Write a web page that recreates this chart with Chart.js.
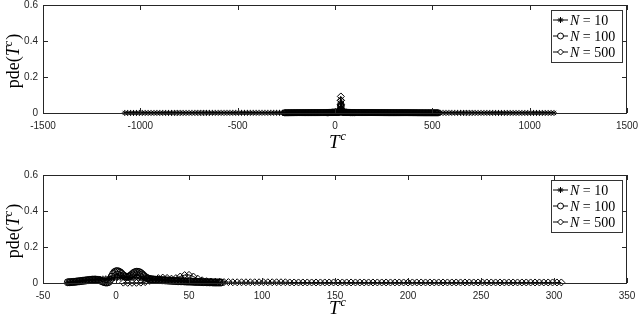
<!DOCTYPE html>
<html>
<head>
<meta charset="utf-8">
<script src="https://cdn.jsdelivr.net/npm/chart.js@4/dist/chart.umd.min.js"></script>
<style>
  html, body { margin: 0; padding: 0; background: #fff; }
  #wrap { position: relative; width: 640px; height: 318px; overflow: hidden; }
  canvas { position: absolute; left: 0; }
</style>
</head>
<body>
<div id="wrap">
  <canvas id="top" width="640" height="159" style="top:0"></canvas>
  <canvas id="bottom" width="640" height="148" style="top:170px"></canvas>
</div>
<script>
// series names and tick labels
const seriesNames = ["10", "100", "500"];
const yTicks = [0, 0.2, 0.4, 0.6];
const topXTicks = [-1500, -1000, -500, 0, 500, 1000, 1500];
const bottomXTicks = [-50, 0, 50, 100, 150, 200, 250, 300, 350];

// top panel, N = 10
const topX10 = [-1080,-1065,-1050,-1035,-1020,-1005,-990,-975,-960,-945,
  -930,-915,-900,-885,-870,-855,-840,-825,-810,-795,
  -780,-765,-750,-735,-720,-705,-690,-675,-660,-645,
  -630,-615,-600,-585,-570,-555,-540,-525,-510,-495,
  -480,-465,-450,-435,-420,-405,-390,-375,-360,-345,
  -330,-315,-300,-285,-270,-255,-240,-225,-210,-195,
  -180,-165,-150,-135,-120,-105,-90,-75,-60,-45,
  -30,-15,0,15,30,45,60,75,90,105,
  120,135,150,165,180,195,210,225,240,255,
  270,285,300,315,330,345,360,375,390,405,
  420,435,450,465,480,495,510,525,540,555,
  570,585,600,615,630,645,660,675,690,705,
  720,735,750,765,780,795,810,825,840,855,
  870,885,900,915,930,945,960,975,990,1005,
  1020,1035,1050,1065,1080,1095,1110,1125];
const topY10 = [0.0003,0.0003,0.0003,0.0003,0.0003,0.0004,0.0004,0.0004,0.0004,0.0004,
  0.0004,0.0005,0.0005,0.0005,0.0005,0.0005,0.0005,0.0006,0.0006,0.0006,
  0.0006,0.0006,0.0006,0.0007,0.0007,0.0007,0.0007,0.0007,0.0007,0.0008,
  0.0008,0.0008,0.0008,0.0008,0.0008,0.0008,0.0009,0.0009,0.0009,0.0009,
  0.0009,0.0009,0.0009,0.0010,0.0010,0.0010,0.0010,0.0010,0.0010,0.0010,
  0.0010,0.0011,0.0011,0.0011,0.0011,0.0011,0.0011,0.0011,0.0011,0.0011,
  0.0011,0.0011,0.0012,0.0012,0.0012,0.0012,0.0012,0.0012,0.0012,0.0012,
  0.0012,0.0012,0.0012,0.0012,0.0012,0.0012,0.0012,0.0012,0.0012,0.0011,
  0.0011,0.0011,0.0011,0.0011,0.0011,0.0011,0.0011,0.0011,0.0011,0.0010,
  0.0010,0.0010,0.0010,0.0010,0.0010,0.0010,0.0010,0.0009,0.0009,0.0009,
  0.0009,0.0009,0.0009,0.0009,0.0008,0.0008,0.0008,0.0008,0.0008,0.0008,
  0.0007,0.0007,0.0007,0.0007,0.0007,0.0007,0.0006,0.0006,0.0006,0.0006,
  0.0006,0.0006,0.0005,0.0005,0.0005,0.0005,0.0005,0.0005,0.0004,0.0004,
  0.0004,0.0004,0.0004,0.0004,0.0004,0.0003,0.0003,0.0003,0.0003,0.0003,
  0.0003,0.0003,0.0003,0.0003,0.0003,0.0003,0.0003,0.0003];

// top panel, N = 100
const topX100 = [-260,-255,-250,-245,-240,-235,-230,-225,-220,-215,
  -210,-205,-200,-195,-190,-185,-180,-175,-170,-165,
  -160,-155,-150,-145,-140,-135,-130,-125,-120,-115,
  -110,-105,-100,-95,-90,-85,-80,-75,-70,-65,
  -60,-55,-50,-45,-40,-35,-30,-25,-20,-15,
  -10,-5,0,5,10,15,20,
  23,26,28,30,32,34,37,
  40,45,50,55,60,65,70,75,80,85,
  90,95,100,105,110,115,120,125,130,135,
  140,145,150,155,160,165,170,175,180,185,
  190,195,200,205,210,215,220,225,230,235,
  240,245,250,255,260,265,270,275,280,285,
  290,295,300,305,310,315,320,325,330,335,
  340,345,350,355,360,365,370,375,380,385,
  390,395,400,405,410,415,420,425,430,435,
  440,445,450,455,460,465,470,475,480,485,
  490,495,500,505,510,515,520,525,530];
const topY100 = [0.0012,0.0012,0.0013,0.0013,0.0013,0.0014,0.0014,0.0014,0.0015,0.0015,
  0.0015,0.0016,0.0016,0.0016,0.0017,0.0017,0.0017,0.0018,0.0018,0.0018,
  0.0019,0.0019,0.0019,0.0020,0.0020,0.0020,0.0021,0.0021,0.0021,0.0022,
  0.0022,0.0022,0.0022,0.0023,0.0023,0.0023,0.0023,0.0024,0.0024,0.0024,
  0.0024,0.0025,0.0025,0.0025,0.0025,0.0025,0.0026,0.0026,0.0026,0.0026,
  0.0026,0.0027,0.0027,0.0027,0.0028,0.0028,0.0030,
  0.006,0.018,0.036,0.052,0.036,0.018,0.006,
  0.0030,0.0029,0.0029,0.0029,0.0028,0.0028,0.0028,0.0028,0.0027,0.0027,
  0.0027,0.0027,0.0026,0.0026,0.0026,0.0026,0.0026,0.0025,0.0025,0.0025,
  0.0025,0.0025,0.0024,0.0024,0.0024,0.0024,0.0024,0.0023,0.0023,0.0023,
  0.0023,0.0023,0.0022,0.0022,0.0022,0.0022,0.0022,0.0021,0.0021,0.0021,
  0.0021,0.0021,0.0020,0.0020,0.0020,0.0020,0.0020,0.0019,0.0019,0.0019,
  0.0019,0.0019,0.0018,0.0018,0.0018,0.0018,0.0018,0.0017,0.0017,0.0017,
  0.0017,0.0017,0.0016,0.0016,0.0016,0.0016,0.0016,0.0015,0.0015,0.0015,
  0.0015,0.0015,0.0014,0.0014,0.0014,0.0014,0.0014,0.0013,0.0013,0.0013,
  0.0013,0.0013,0.0013,0.0012,0.0012,0.0012,0.0012,0.0012,0.0012,0.0012,
  0.0011,0.0011,0.0011,0.0011,0.0011,0.0011,0.0011,0.0011,0.0011];

// top panel, N = 500
const topX500 = [-40,-35,-30,-25,-20,-15,-10,-5,0,5,10,15,20,25,
  27,28,29,30,31,32,33,
  35,40,45,50,55,60,65,70,75,80,90,100];
const topY500 = [0.002,0.002,0.003,0.003,0.003,0.004,0.004,0.004,0.005,0.005,0.005,0.006,0.006,0.008,
  0.02,0.045,0.07,0.092,0.07,0.045,0.02,
  0.008,0.006,0.005,0.005,0.004,0.004,0.003,0.003,0.003,0.002,0.002,0.002];

// bottom panel, N = 10
const bottomX10 = [-33,-31,-29,-27,-25,-23,-21,-19,-17,-15,
  -13,-11,-9,-7,-5,-3,-1,1,3,5,
  7,9,11,13,15,17,19,21,23,25,
  27,29,31,33,35,37,39,41,43,45,
  47,49,51,53,55,57,59,61,63,65,
  67,69];
const bottomY10 = [0.002,0.004,0.006,0.008,0.010,0.012,0.014,0.016,0.018,0.019,
  0.021,0.022,0.024,0.025,0.026,0.027,0.028,0.029,0.030,0.031,
  0.031,0.030,0.030,0.029,0.028,0.027,0.026,0.025,0.023,0.022,
  0.020,0.019,0.018,0.016,0.015,0.014,0.013,0.012,0.011,0.010,
  0.009,0.008,0.007,0.007,0.006,0.005,0.005,0.004,0.004,0.003,
  0.003,0.002];

// bottom panel, N = 100
const bottomX100 = [-33,-32,-31,-30,-29,-28,-27,-26,-25,-24,
  -23,-22,-21,-20,-19,-18,-17,-16,-15,-14,
  -13,-12,-11,-10,-9,-8,-7,-6,-5,-4,
  -3,-2,-1,0,1,2,3,4,5,6,
  7,8,9,10,11,12,13,14,15,16,
  17,18,19,20,21,22,23,24,25,26,
  27,28,29,30,31,32,33,34,35,36,
  37,38,39,40,41,42,43,44,45,46,
  47,48,49,50,51,52,53,54,55,56,
  57,58,59,60,61,62,63,64,65,66,
  67,68,69,70,71,72];
const bottomY100 = [0.004,0.0045,0.005,0.0055,0.006,0.007,0.008,0.009,0.010,0.011,
  0.012,0.013,0.014,0.015,0.016,0.017,0.018,0.0185,0.019,0.019,
  0.018,0.017,0.015,0.012,0.008,0.005,0.003,0.003,0.006,0.018,
  0.035,0.050,0.060,0.065,0.066,0.063,0.058,0.050,0.042,0.037,
  0.034,0.034,0.036,0.041,0.048,0.055,0.060,0.062,0.062,0.060,
  0.055,0.048,0.040,0.033,0.028,0.025,0.022,0.021,0.020,0.019,
  0.018,0.0175,0.017,0.0165,0.016,0.0155,0.015,0.0145,0.014,0.0135,
  0.013,0.0125,0.012,0.0115,0.011,0.0105,0.010,0.010,0.010,0.0095,
  0.009,0.0085,0.008,0.008,0.008,0.0075,0.007,0.0065,0.006,0.006,
  0.006,0.0055,0.005,0.005,0.005,0.0045,0.004,0.004,0.004,0.0035,
  0.003,0.003,0.003,0.003,0.003,0.003];

// bottom panel, N = 500
const bottomX500 = [5,8,11,14,17,20,23,26,29,32,
  35,38,41,44,47,50,53,56,59,62,
  65,68,71,74,77,80,83,86,89,92,
  95,98,101,104,107,110,113,116,119,122,
  125,128,131,134,137,140,143,146,149,152,
  155,158,161,164,167,170,173,176,179,182,
  185,188,191,194,197,200,203,206,209,212,
  215,218,221,224,227,230,233,236,239,242,
  245,248,251,254,257,260,263,266,269,272,
  275,278,281,284,287,290,293,296,299,302,
  305];
const bottomY500 = [0.002,0.001,0.001,0.001,0.002,0.005,0.012,0.020,0.027,0.030,
  0.028,0.024,0.027,0.036,0.044,0.045,0.036,0.024,0.015,0.010,
  0.008,0.007,0.006,0.005,0.005,0.004,0.004,0.004,0.004,0.004,
  0.004,0.004,0.004,0.004,0.004,0.004,0.004,0.004,0.003,0.003,
  0.003,0.003,0.003,0.003,0.003,0.003,0.003,0.003,0.003,0.003,
  0.003,0.003,0.003,0.003,0.003,0.003,0.003,0.003,0.003,0.003,
  0.003,0.003,0.003,0.003,0.003,0.003,0.003,0.003,0.003,0.003,
  0.003,0.003,0.003,0.003,0.003,0.003,0.003,0.003,0.003,0.003,
  0.003,0.003,0.003,0.003,0.003,0.003,0.003,0.003,0.003,0.003,
  0.003,0.003,0.003,0.003,0.003,0.003,0.003,0.003,0.003,0.003,
  0.003];

const SERIF = "'Liberation Serif', 'DejaVu Serif', serif";
const SANS = "'Liberation Sans', Arial, sans-serif";
const AXIS = "#262626";

const pts = (xs, ys) => xs.map((x, i) => ({ x: x, y: ys[i] }));

function series(name, data, style, r) {
  return {
    label: "N = " + name,
    data: data,
    showLine: true,
    borderColor: "#000",
    borderWidth: 1,
    backgroundColor: "rgba(0,0,0,0)",
    pointStyle: style,
    pointRadius: r,
    pointBorderWidth: 1,
    pointBorderColor: "#000",
    pointBackgroundColor: "rgba(0,0,0,0)",
    clip: false
  };
}

// box, inward ticks, axis titles and legend in the matlab style
const matlabFrame = {
  id: "matlabFrame",
  afterDatasetsDraw(chart) {
    const ctx = chart.ctx;
    const a = chart.chartArea;
    const xs = chart.scales.x, ys = chart.scales.y;
    ctx.save();
    ctx.strokeStyle = AXIS;
    ctx.lineWidth = 1;
    ctx.strokeRect(a.left + 0.5, a.top + 0.5, a.right - a.left - 1, a.bottom - a.top);
    ctx.beginPath();
    xs.ticks.forEach(t => {
      const px = Math.round(xs.getPixelForValue(t.value)) + 0.5;
      ctx.moveTo(px, a.bottom); ctx.lineTo(px, a.bottom - 5);
      ctx.moveTo(px, a.top); ctx.lineTo(px, a.top + 5);
    });
    ys.ticks.forEach(t => {
      const py = Math.round(ys.getPixelForValue(t.value)) + 0.5;
      ctx.moveTo(a.left, py); ctx.lineTo(a.left + 5, py);
      ctx.moveTo(a.right, py); ctx.lineTo(a.right - 5, py);
    });
    ctx.stroke();

    // legend
    const lx = a.right - 76, ly = a.top + 5, lw = 71, lh = 52;
    ctx.fillStyle = "#fff";
    ctx.fillRect(lx, ly, lw, lh);
    ctx.strokeStyle = "#333";
    ctx.strokeRect(lx + 0.5, ly + 0.5, lw, lh);
    chart.data.datasets.forEach((ds, i) => {
      const cy = ly + 10 + i * 16;
      ctx.strokeStyle = "#000";
      ctx.beginPath();
      ctx.moveTo(lx + 2, cy); ctx.lineTo(lx + 17, cy);
      ctx.stroke();
      ctx.fillStyle = "#fff";
      Chart.helpers.drawPoint(ctx, { pointStyle: ds.pointStyle, rotation: 0, radius: 3, borderWidth: 1 }, lx + 9.5, cy);
      ctx.fillStyle = "#000";
      ctx.textBaseline = "middle";
      ctx.textAlign = "left";
      ctx.font = "italic 14px " + SERIF;
      ctx.fillText("N", lx + 19, cy + 1);
      const nw = ctx.measureText("N").width;
      ctx.font = "14px " + SERIF;
      ctx.fillText(" = " + seriesNames[i], lx + 19 + nw, cy + 1);
    });

    // x title
    const dy = chart.options.plugins.matlabFrame.xTitleDy;
    ctx.fillStyle = "#000";
    ctx.textBaseline = "alphabetic";
    ctx.textAlign = "left";
    const xc = (a.left + a.right) / 2;
    ctx.font = "italic 19px " + SERIF;
    const tw = ctx.measureText("T").width;
    ctx.fillText("T", xc - 6, a.bottom + dy);
    ctx.font = "italic 12px " + SERIF;
    ctx.fillText("c", xc - 6 + tw + 1, a.bottom + dy - 8);

    // y title, rotated
    const parts = [["pde(", "18px "], ["T", "italic 18px "], ["c", "italic 12px "], [")", "18px "]];
    let total = 0;
    parts.forEach(p => { ctx.font = p[1] + SERIF; total += ctx.measureText(p[0]).width + (p[0] === "c" ? 1 : 0); });
    ctx.translate(19, (a.top + a.bottom) / 2 + 2);
    ctx.rotate(-Math.PI / 2);
    let x = -total / 2;
    parts.forEach(p => {
      ctx.font = p[1] + SERIF;
      ctx.fillText(p[0], x, p[0] === "c" ? -7 : 0);
      x += ctx.measureText(p[0]).width + (p[0] === "c" ? 1 : 0);
    });
    ctx.restore();
  }
};

function makeChart(id, datasets, xTicks, canvasH, xTitleDy) {
  const ctx = document.getElementById(id).getContext("2d");
  return new Chart(ctx, {
    type: "scatter",
    data: { datasets: datasets },
    options: {
      responsive: false,
      animation: false,
      layout: { padding: { left: 0, right: 13, top: 5, bottom: 0 } },
      plugins: {
        legend: { display: false },
        tooltip: { enabled: false },
        matlabFrame: { xTitleDy: xTitleDy }
      },
      scales: {
        x: {
          type: "linear",
          min: xTicks[0],
          max: xTicks[xTicks.length - 1],
          afterFit: s => { s.height = canvasH - 113; s.paddingLeft = 0; s.paddingRight = 0; },
          afterBuildTicks: s => { s.ticks = xTicks.map(v => ({ value: v })); },
          grid: { display: false, drawTicks: false },
          border: { display: false },
          ticks: {
            padding: 7,
            color: AXIS,
            font: { family: SANS, size: 10 },
            maxRotation: 0,
            autoSkip: false,
            callback: v => String(v)
          }
        },
        y: {
          min: 0,
          max: 0.6,
          afterFit: s => { s.width = 43; s.paddingTop = 0; s.paddingBottom = 0; },
          afterBuildTicks: s => { s.ticks = yTicks.map(v => ({ value: v })); },
          grid: { display: false, drawTicks: false },
          border: { display: false },
          ticks: {
            padding: 5,
            color: AXIS,
            font: { family: SANS, size: 10 },
            callback: v => String(Math.round(v * 10) / 10)
          }
        }
      }
    },
    plugins: [matlabFrame]
  });
}

makeChart("top", [
  series(seriesNames[0], pts(topX10, topY10), "star", 3),
  series(seriesNames[1], pts(topX100, topY100), "circle", 3),
  series(seriesNames[2], pts(topX500, topY500), "rectRot", 3.5)
], topXTicks, 159, 35);

makeChart("bottom", [
  series(seriesNames[0], pts(bottomX10, bottomY10), "star", 3),
  series(seriesNames[1], pts(bottomX100, bottomY100), "circle", 3.5),
  series(seriesNames[2], pts(bottomX500, bottomY500), "rectRot", 3.5)
], bottomXTicks, 148, 31);
</script>
</body>
</html>
